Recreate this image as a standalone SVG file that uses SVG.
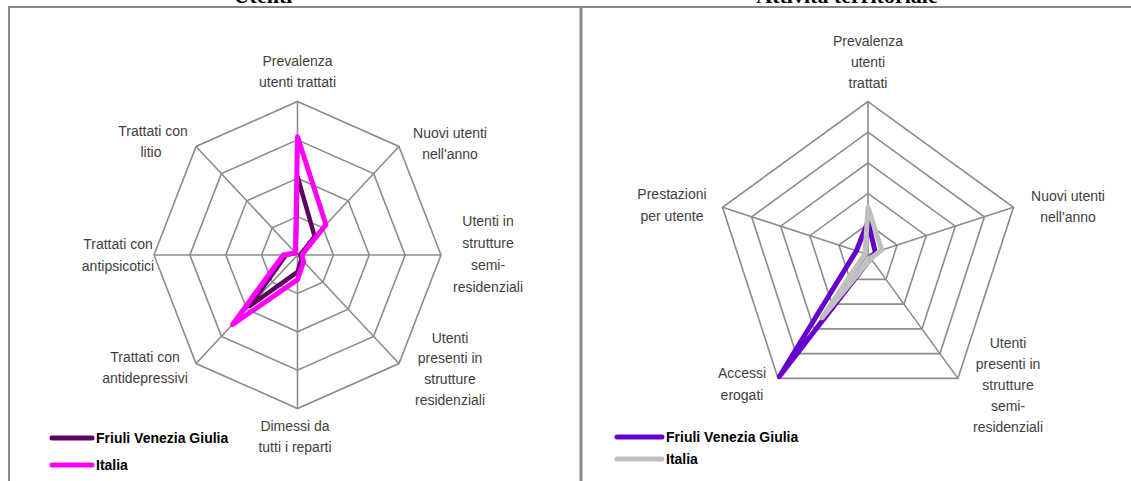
<svg xmlns="http://www.w3.org/2000/svg" width="1131" height="481" viewBox="0 0 1131 481">
<style>
.frame{stroke:#888888;stroke-width:2;fill:none}
.grid{stroke:#8c8c8c;stroke-width:1.6;fill:none}
.lbl{font-family:"Liberation Sans",Arial,sans-serif;font-size:14px;fill:#404040;text-anchor:middle}
.leg{font-family:"Liberation Sans",Arial,sans-serif;font-size:14px;font-weight:bold;fill:#000}
.title{font-family:"Liberation Serif","Times New Roman",serif;font-size:22px;font-weight:bold;fill:#000;text-anchor:middle}
.series{fill:none;stroke-linejoin:round;stroke-linecap:round}
</style>
<rect width="1131" height="481" fill="#ffffff"/>
<g id="frame">
<line class="frame" x1="8" y1="7" x2="1131" y2="7"/>
<line class="frame" x1="9" y1="6" x2="9" y2="481"/>
<line class="frame" x1="581" y1="6" x2="581" y2="481" style="stroke-width:3"/>
<text class="title" x="263" y="3">Utenti</text>
<text class="title" x="847" y="3">Attività territoriale</text>
</g>
<g id="chart-utenti">
<g id="grid-left">
<polygon class="grid" points="297.5,101.5 398.97,146.46 441,255 398.97,363.54 297.5,408.5 196.03,363.54 154,255 196.03,146.46"/>
<polygon class="grid" points="297.5,139.88 373.6,173.59 405.13,255 373.6,336.41 297.5,370.13 221.4,336.41 189.88,255 221.4,173.59"/>
<polygon class="grid" points="297.5,178.25 348.24,200.73 369.25,255 348.24,309.27 297.5,331.75 246.76,309.27 225.75,255 246.76,200.73"/>
<polygon class="grid" points="297.5,216.63 322.87,227.86 333.38,255 322.87,282.14 297.5,293.38 272.13,282.14 261.63,255 272.13,227.86"/>
<path class="grid" d="M297.5,255L297.5,101.5M297.5,255L398.97,146.46M297.5,255L441,255M297.5,255L398.97,363.54M297.5,255L297.5,408.5M297.5,255L196.03,363.54M297.5,255L154,255M297.5,255L196.03,146.46"/>
</g>
<g id="series-left">
<polygon class="series" stroke="#5f0060" stroke-width="4.5" points="297.5,176.7 314.7,236.5 300.4,255 301.6,259.3 297.5,271.9 249.8,306 286,255 295.5,252.8"/>
<polygon class="series" stroke="#ff00ff" stroke-width="5" points="297.5,136.8 325.9,224.6 301.8,255 303.6,261.5 297.5,279.6 232.6,324.5 283.15,255 295.5,252.8"/>
</g>
<g id="labels-left">
<text class="lbl" x="297.5" y="66">Prevalenza</text>
<text class="lbl" x="297.5" y="87">utenti trattati</text>
<text class="lbl" x="450" y="138">Nuovi utenti</text>
<text class="lbl" x="450" y="159">nell'anno</text>
<text class="lbl" x="488" y="226">Utenti in</text>
<text class="lbl" x="488" y="248">strutture</text>
<text class="lbl" x="488" y="270">semi-</text>
<text class="lbl" x="488" y="292">residenziali</text>
<text class="lbl" x="450" y="343">Utenti</text>
<text class="lbl" x="450" y="363">presenti in</text>
<text class="lbl" x="450" y="384">strutture</text>
<text class="lbl" x="450" y="405">residenziali</text>
<text class="lbl" x="295" y="431">Dimessi da</text>
<text class="lbl" x="295" y="452">tutti i reparti</text>
<text class="lbl" x="145" y="362">Trattati con</text>
<text class="lbl" x="145" y="383">antidepressivi</text>
<text class="lbl" x="118" y="249">Trattati con</text>
<text class="lbl" x="118" y="271">antipsicotici</text>
<text class="lbl" x="153" y="136">Trattati con</text>
<text class="lbl" x="151" y="157">litio</text>
</g>
<g id="legend-left">
<line x1="52" y1="438" x2="92" y2="438" stroke="#5f0060" stroke-width="5" stroke-linecap="round"/>
<text class="leg" x="96" y="443">Friuli Venezia Giulia</text>
<line x1="52" y1="465" x2="92" y2="465" stroke="#ff00ff" stroke-width="5" stroke-linecap="round"/>
<text class="leg" x="96" y="470">Italia</text>
</g>
</g>
<g id="chart-attivita">
<g id="grid-right">
<polygon class="grid" points="868,101.6 1013.5,207.3 957.9,378.4 778.1,378.4 722.5,207.3"/>
<polygon class="grid" points="868,132.2 984.4,216.8 939.9,353.6 796.1,353.6 751.6,216.8"/>
<polygon class="grid" points="868,162.8 955.3,226.2 922,328.9 814,328.9 780.7,226.2"/>
<polygon class="grid" points="868,193.4 926.2,235.7 904,304.1 832,304.1 809.8,235.7"/>
<polygon class="grid" points="868,224 897.1,245.1 886,279.4 850,279.4 838.9,245.1"/>
<path class="grid" d="M868,254.6L868,101.6M868,254.6L1013.5,207.3M868,254.6L957.9,378.4M868,254.6L778.1,378.4M868,254.6L722.5,207.3"/>
</g>
<g id="series-right">
<polygon class="series" stroke="#6600cc" stroke-width="5" points="868,221.7 875.3,252.2 870.7,258.3 779.4,376.5 856.4,250.8"/>
<polygon class="series" stroke="#c0c0c0" stroke-width="5" points="868,207.2 881.8,250.1 870.7,258.3 822.1,317.7 865.1,253.7"/>
</g>
<g id="labels-right">
<text class="lbl" x="868" y="46">Prevalenza</text>
<text class="lbl" x="868" y="67">utenti</text>
<text class="lbl" x="868" y="88">trattati</text>
<text class="lbl" x="1068" y="201">Nuovi utenti</text>
<text class="lbl" x="1068" y="222">nell'anno</text>
<text class="lbl" x="1008" y="348">Utenti</text>
<text class="lbl" x="1008" y="369">presenti in</text>
<text class="lbl" x="1008" y="390">strutture</text>
<text class="lbl" x="1008" y="411">semi-</text>
<text class="lbl" x="1008" y="432">residenziali</text>
<text class="lbl" x="742" y="378">Accessi</text>
<text class="lbl" x="742" y="400">erogati</text>
<text class="lbl" x="672" y="199">Prestazioni</text>
<text class="lbl" x="672" y="221">per utente</text>
</g>
<g id="legend-right">
<line x1="617" y1="437" x2="662" y2="437" stroke="#6600cc" stroke-width="5" stroke-linecap="round"/>
<text class="leg" x="666" y="442">Friuli Venezia Giulia</text>
<line x1="617" y1="459" x2="662" y2="459" stroke="#c0c0c0" stroke-width="5" stroke-linecap="round"/>
<text class="leg" x="666" y="464">Italia</text>
</g>
</g>
</svg>
